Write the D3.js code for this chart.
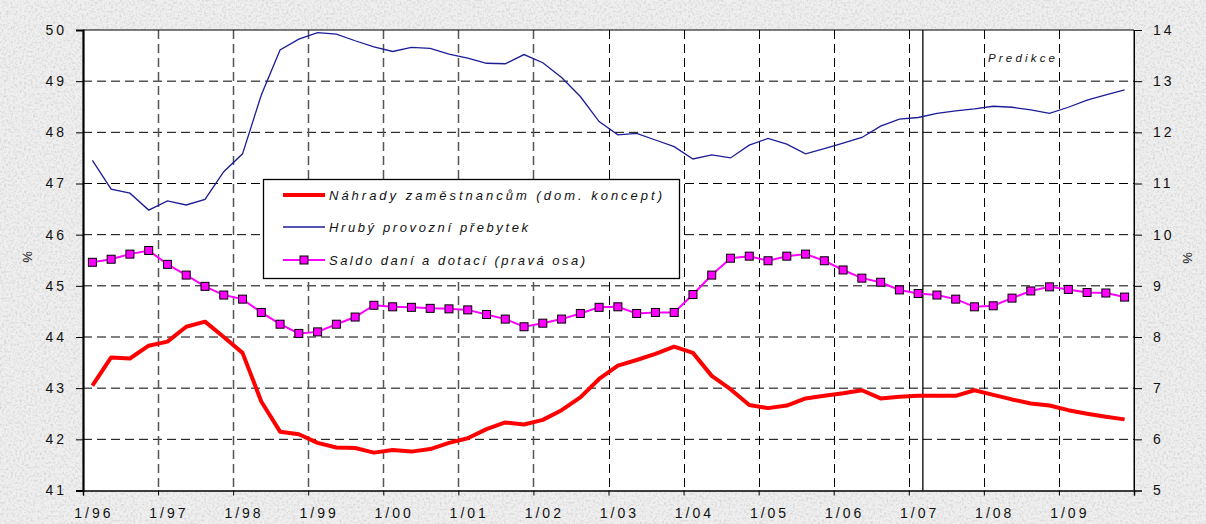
<!DOCTYPE html>
<html>
<head>
<meta charset="utf-8">
<script src="https://cdn.jsdelivr.net/npm/d3@7"></script>
<style>
  body { margin: 0; background: #ebebeb; }
  text { font-family: Arial, "Liberation Sans", sans-serif; fill: #111; }
</style>
</head>
<body>
<div id="chart"></div>
<script>
// quarterly data 1996Q1 .. 2009Q4
const yearLabels = ["1/96","1/97","1/98","1/99","1/00","1/01","1/02","1/03","1/04","1/05","1/06","1/07","1/08","1/09"];

// Náhrady zaměstnancům (left axis, %)
const nahrady = [43.05,43.60,43.58,43.83,43.91,44.20,44.30,44.00,43.69,42.74,
  42.15,42.10,41.93,41.84,41.83,41.74,41.79,41.76,41.81,41.93,
  42.02,42.20,42.33,42.29,42.38,42.57,42.82,43.18,43.44,43.55,
  43.67,43.81,43.69,43.24,42.98,42.67,42.61,42.66,42.80,42.85,
  42.90,42.96,42.80,42.83,42.85,42.85,42.85,42.96,42.87,42.78,
  42.70,42.66,42.57,42.50,42.44,42.39];

// Hrubý provozní přebytek (left axis, %)
const prebytek = [47.45,46.89,46.81,46.48,46.66,46.58,46.69,47.23,47.58,48.73,
  49.61,49.82,49.95,49.92,49.79,49.67,49.58,49.66,49.64,49.53,
  49.45,49.35,49.34,49.52,49.36,49.07,48.70,48.21,47.95,47.98,
  47.85,47.72,47.48,47.56,47.50,47.75,47.88,47.77,47.58,47.68,
  47.79,47.90,48.12,48.26,48.29,48.37,48.42,48.46,48.51,48.49,
  48.44,48.37,48.49,48.63,48.73,48.83];

// Saldo daní a dotací (right axis, %)
const saldo = [9.46,9.52,9.62,9.69,9.42,9.21,8.99,8.82,8.74,8.48,
  8.25,8.07,8.10,8.25,8.39,8.62,8.59,8.58,8.56,8.55,
  8.53,8.44,8.35,8.20,8.27,8.35,8.46,8.58,8.59,8.46,
  8.48,8.48,8.83,9.21,9.54,9.58,9.49,9.58,9.62,9.49,
  9.31,9.15,9.07,8.92,8.85,8.82,8.74,8.59,8.61,8.76,
  8.90,8.98,8.93,8.87,8.86,8.78];

const leftTicks = [41,42,43,44,45,46,47,48,49,50];
const rightTicks = [5,6,7,8,9,10,11,12,13,14];
const legendLabels = ["Náhrady zaměstnancům (dom. koncept)", "Hrubý provozní přebytek", "Saldo daní a dotací (pravá osa)"];
const predikceLabel = "Predikce";
const predikceStart = 44.75; // in quarters from 1/96

const W = 1206, H = 524;
const margin = {top: 30, right: 72, bottom: 33.5, left: 83};

const svg = d3.select("#chart").append("svg")
    .attr("width", W)
    .attr("height", H);

// granite-like background
const defs = svg.append("defs");
const f = defs.append("filter").attr("id", "granite").attr("x", 0).attr("y", 0).attr("width", 1).attr("height", 1);
f.append("feTurbulence").attr("type", "fractalNoise").attr("baseFrequency", 0.45).attr("numOctaves", 3).attr("seed", 3);
f.append("feColorMatrix").attr("type", "matrix")
    .attr("values", "0 0 0 0 0.55  0 0 0 0 0.55  0 0 0 0 0.55  0 0 0 -2.6 1.45");
svg.append("rect").attr("width", W).attr("height", H).attr("fill", "#efefef");
svg.append("rect").attr("width", W).attr("height", H).attr("filter", "url(#granite)").attr("opacity", 0.55);

const x0 = margin.left, x1 = W - margin.right;
const y0 = H - margin.bottom, y1 = margin.top;

const x = d3.scaleLinear().domain([0, 56]).range([x0, x1]);
const yL = d3.scaleLinear().domain([41, 50]).range([y0, y1]);
const yR = d3.scaleLinear().domain([5, 14]).range([y0, y1]);

// plot area
svg.append("rect")
    .attr("x", x0).attr("y", y1)
    .attr("width", x1 - x0).attr("height", y0 - y1)
    .attr("fill", "#fff");

// grid
const grid = svg.append("g");
grid.selectAll(".hg")
    .data(leftTicks.filter(d => d > 41 && d < 50))
    .join("line")
    .attr("x1", x0).attr("x2", x1)
    .attr("y1", d => yL(d)).attr("y2", d => yL(d))
    .attr("stroke", "#000").attr("stroke-width", 1)
    .attr("stroke-dasharray", "9,5");
grid.selectAll(".vg")
    .data(d3.range(1, 14))
    .join("line")
    .attr("x1", d => Math.round(x(d * 4)) + 0.5).attr("x2", d => Math.round(x(d * 4)) + 0.5)
    .attr("y1", y1).attr("y2", y0)
    .attr("stroke", d => d < 7 ? "#555" : "#000").attr("stroke-width", d => d < 7 ? 1.5 : 1)
    .attr("stroke-dasharray", "9,5");

// prediction divider
svg.append("line")
    .attr("x1", x(predikceStart)).attr("x2", x(predikceStart))
    .attr("y1", y1).attr("y2", y0)
    .attr("stroke", "#000").attr("stroke-width", 1.3);
svg.append("text")
    .attr("x", 988).attr("y", 62)
    .attr("textLength", 67).attr("lengthAdjust", "spacing")
    .style("font-size", "11.5px").style("font-style", "italic")
    .text(predikceLabel);

// frame
svg.append("line").attr("x1", x0).attr("x2", x1).attr("y1", y1).attr("y2", y1).attr("stroke", "#000").attr("stroke-width", 1);
svg.append("line").attr("x1", x1).attr("x2", x1).attr("y1", y1).attr("y2", y0).attr("stroke", "#000").attr("stroke-width", 1);

// axes
const axL = svg.append("g").attr("transform", `translate(${x0},0)`)
    .call(d3.axisLeft(yL).tickValues(leftTicks).tickSize(7).tickPadding(12));
axL.select(".domain").attr("stroke-width", 2.2);
const axR = svg.append("g").attr("transform", `translate(${x1},0)`)
    .call(d3.axisRight(yR).tickValues(rightTicks).tickSize(8).tickPadding(11));
const axB = svg.append("g").attr("transform", `translate(0,${y0})`)
    .call(d3.axisBottom(x).tickValues(d3.range(0, 57, 4)).tickSize(5).tickFormat(""));
axB.select(".domain").attr("stroke-width", 1.5);
[axL, axR, axB].forEach(a => {
  a.selectAll(".domain").attr("stroke", "#000");
  a.selectAll(".tick line").attr("stroke", "#000");
  a.selectAll("text")
      .style("font-size", "14px").style("letter-spacing", "3px")
      .attr("font-family", null).attr("fill", "#111");
});
axL.selectAll(".tick text").attr("dx", 3);

svg.append("g").selectAll("text")
    .data(yearLabels)
    .join("text")
    .attr("x", (d, i) => x(i * 4 + 0.5) + 1.5)
    .attr("y", 518)
    .attr("text-anchor", "middle")
    .style("font-size", "14px").style("letter-spacing", "3px")
    .text(d => d);

svg.append("text")
    .attr("transform", "translate(32,257) rotate(-90)")
    .attr("text-anchor", "middle")
    .style("font-size", "13px")
    .text("%");
svg.append("text")
    .attr("transform", "translate(1192,258) rotate(-90)")
    .attr("text-anchor", "middle")
    .style("font-size", "13px")
    .text("%");

// series
const lineL = d3.line().x((d, i) => x(i + 0.5)).y(d => yL(d));
const lineR = d3.line().x((d, i) => x(i + 0.5)).y(d => yR(d));

svg.append("path").datum(prebytek)
    .attr("d", lineL).attr("fill", "none")
    .attr("stroke", "#1c1c96").attr("stroke-width", 1.3);

svg.append("path").datum(saldo)
    .attr("d", lineR).attr("fill", "none")
    .attr("stroke", "#ff00ff").attr("stroke-width", 2);
svg.append("g").selectAll("rect")
    .data(saldo)
    .join("rect")
    .attr("x", (d, i) => x(i + 0.5) - 4)
    .attr("y", d => yR(d) - 4)
    .attr("width", 8).attr("height", 8)
    .attr("fill", "#ff00ff").attr("stroke", "#000").attr("stroke-width", 1);

svg.append("path").datum(nahrady)
    .attr("d", lineL).attr("fill", "none")
    .attr("stroke", "#ff0000").attr("stroke-width", 4)
    .attr("stroke-linejoin", "round");

// legend
const lg = svg.append("g");
lg.append("rect")
    .attr("x", 263.5).attr("y", 179.5).attr("width", 416).attr("height", 99)
    .attr("fill", "#fff").attr("stroke", "#000").attr("stroke-width", 1.3);
const legendY = [195, 227, 260];
const legendW = [333, 199, 256];
legendLabels.forEach((lab, i) => {
  const ly = legendY[i];
  const ln = lg.append("line").attr("x1", 283).attr("x2", 325).attr("y1", ly).attr("y2", ly);
  if (i === 0) ln.attr("stroke", "#ff0000").attr("stroke-width", 4);
  if (i === 1) ln.attr("stroke", "#1c1c96").attr("stroke-width", 1.3);
  if (i === 2) {
    ln.attr("stroke", "#ff00ff").attr("stroke-width", 2);
    lg.append("rect").attr("x", 300).attr("y", ly - 4).attr("width", 8).attr("height", 8)
        .attr("fill", "#ff00ff").attr("stroke", "#000");
  }
  lg.append("text")
      .attr("x", 329).attr("y", ly + 4.5)
      .attr("textLength", legendW[i]).attr("lengthAdjust", "spacing")
      .style("font-size", "13px").style("font-style", "italic")
      .text(lab);
});
</script>
</body>
</html>
